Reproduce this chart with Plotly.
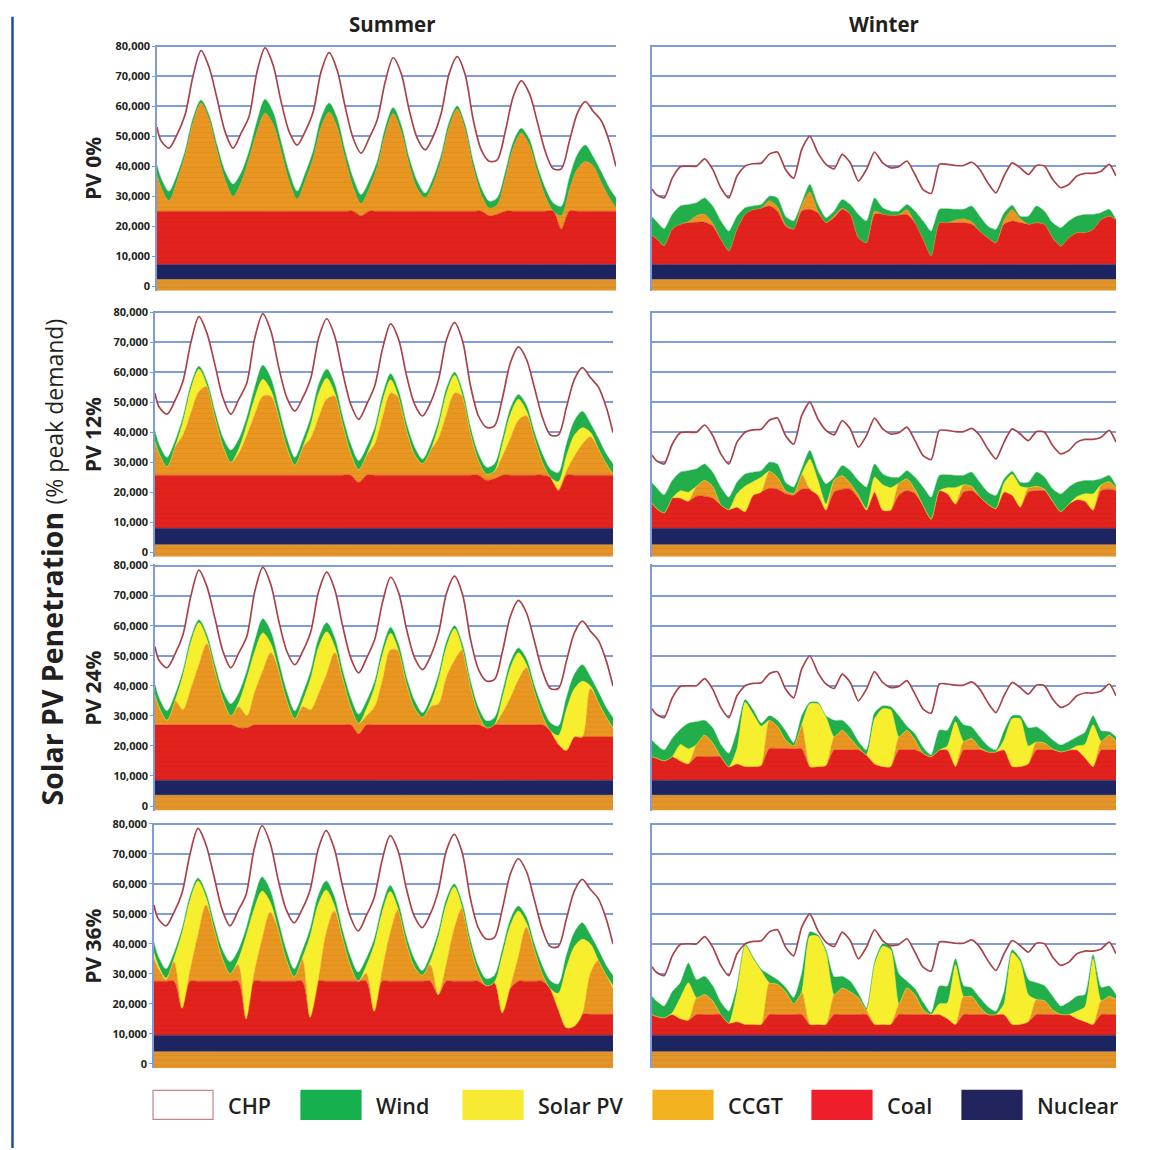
import numpy as np
import plotly.graph_objects as go

# ---------------- data (values in thousands of MW) ----------------
HOURS = [0, 1.5, 4.5, 7.5, 10.5, 13.5, 16.5, 19.5, 22.5, 25.5, 28.5, 31.5, 34.5, 37.5, 40.5,
         43.5, 46.5, 49.5, 52.5, 55.5, 58.5, 61.5, 64.5, 67.5, 70.5, 73.5, 76.5, 79.5, 82.5,
         85.5, 88.5, 91.5, 94.5, 97.5, 100.5, 103.5, 106.5, 109.5, 112.5, 115.5, 118.5,
         121.5, 124.5, 127.5, 130.5, 133.5, 136.5, 139.5, 142.5, 145.5, 148.5, 151.5,
         154.5, 157.5, 160.5, 163.5, 166.5, 169.5, 172]

ROW_LABELS = ["PV 0%", "PV 12%", "PV 24%", "PV 36%"]
SEASONS = ["Summer", "Winter"]
LEGEND_NAMES = ["CHP", "Wind", "Solar PV", "CCGT", "Coal", "Nuclear"]
Y_TICKS = [0, 10000, 20000, 30000, 40000, 50000, 60000, 70000, 80000]

BASE_TOP = [2.2, 2.5, 3.6, 4.0]     # must-run CCGT strip top, per row
NUC_TOP = [7.2, 8.0, 8.6, 9.5]      # nuclear top, per row

# ---- Summer ----
S_DEMAND = [53, 48.5, 46, 50.5, 57, 70, 78.5, 73, 62.5, 51.5,
            46, 51, 56.5, 71.5, 79.4, 73.7, 61.5, 51.5, 47, 51.5,
            58, 71.5, 77.8, 72, 59.8, 49.3, 44.3, 49.3, 55.4, 68,
            76.1, 70.9, 58.7, 49.3, 45.4, 49.9, 57.6, 70.9, 76.5, 70.4,
            55.4, 45.4, 41.6, 42.1, 51.5, 63.2, 68.4, 64.3, 54.8, 44.9,
            39.1, 39.1, 48.2, 57.6, 61.5, 58.2, 55.1, 48.2, 39.9]
S_WIND_TOP = [40.4, 36, 31.6, 37, 45, 56, 62, 57, 47, 38.2,
              34, 37.7, 45, 55, 62.3, 58, 48, 38, 31.6, 37.5,
              45, 56, 61, 56, 45, 36, 30.5, 35, 41.5, 52.6,
              59.5, 53.7, 42.7, 35, 31, 36, 43.8, 54.8, 60, 53.7,
              41.5, 32.7, 28.3, 29.4, 38, 48, 52.6, 49, 40, 32.7,
              27.7, 26.6, 36, 43.8, 47, 43, 38, 32.7, 29.4]
S_SUPPLY_TOP = [37, 33, 28.5, 35, 43.5, 54.5, 61, 55.5, 45, 35.5,
                30, 34.5, 42.5, 51.5, 57.6, 54, 45, 35, 29, 35,
                42.5, 53, 58, 53, 42.5, 33, 27.5, 32.5, 39.5, 50.5,
                57.5, 51.5, 40.5, 32.5, 29.5, 34, 42, 53, 59, 52,
                39.5, 30.5, 26, 27.1, 36, 46, 51, 47, 38, 30,
                25, 23.5, 32, 39, 41.5, 40, 34.5, 29.5, 26]
S0_COAL = [25, 25, 25, 25, 25, 25, 25, 25, 25, 25,
           25, 25, 25, 25, 25, 25, 25, 25, 25, 25,
           25, 25, 25, 25, 25, 25, 23.5, 25, 25, 25,
           25, 25, 25, 25, 25, 25, 25, 25, 25, 25,
           25, 25, 23.5, 24, 25, 25, 25, 25, 25, 25,
           25, 19, 25, 25, 25, 25, 25, 25, 25]
S12_COAL = [25.7, 25.7, 25.7, 25.7, 25.7, 25.7, 25.7, 25.7, 25.7, 25.7,
            25.7, 25.7, 25.7, 25.7, 25.7, 25.7, 25.7, 25.7, 25.7, 25.7,
            25.7, 25.7, 25.7, 25.7, 25.7, 25.7, 23.3, 25.7, 25.7, 25.7,
            25.7, 25.7, 25.7, 25.7, 25.7, 25.7, 25.7, 25.7, 25.7, 25.7,
            25.7, 25.7, 24, 24.5, 25.7, 25.7, 25.7, 25.7, 25.7, 25.7,
            25, 20.5, 25.7, 25.7, 25.7, 25.7, 25.7, 25.7, 25.7]
S12_CCGT = [37, 33, 28.5, 35, 39, 46.5, 53.5, 55.2, 45, 35.5,
            30, 33, 39, 46, 52, 52, 45, 35, 29, 35,
            38, 45, 51, 52, 42.5, 33, 27.5, 32.5, 36, 45,
            53, 51.5, 40.5, 32.5, 29.5, 34, 38, 46, 53, 52,
            39.5, 30.5, 26, 27, 32, 38, 44, 45.5, 38, 30,
            25, 21, 27, 32, 36, 38.5, 34.5, 29.5, 26]
S24_COAL = [27, 27, 27, 27, 27, 27, 27, 27, 27, 27,
            27, 26, 26, 27, 27, 27, 27, 27, 27, 27,
            27, 27, 27, 27, 27, 27, 24, 27, 27, 27,
            27, 27, 27, 27, 27, 27, 27, 27, 27, 27,
            27, 27, 26, 27, 27, 27, 27, 27, 27, 27,
            25, 20.5, 18.5, 23, 23, 23, 23, 23, 23]
S24_CCGT = [37, 33, 28.5, 35, 32, 39, 47, 54, 45, 35.5,
            30, 33, 30, 38, 45, 51, 45, 35, 29, 33,
            32, 37.5, 44, 51, 42.5, 33, 27.5, 30, 33, 42,
            52, 51.5, 40.5, 32.5, 29.5, 33, 34, 43, 48.5, 52,
            39.5, 30.5, 26, 27.1, 31, 36, 42, 46, 38, 30,
            25, 20.5, 18.5, 23, 23, 39, 34.5, 29.5, 26]
S36_COAL = [27.5, 27.5, 27.5, 27.5, 18.5, 27.5, 27.5, 27.5, 27.5, 27.5,
            27.5, 27.5, 15, 27.5, 27.5, 27.5, 27.5, 27.5, 27.5, 27.5,
            15.5, 27.5, 27.5, 27.5, 27.5, 27.5, 27.5, 27.5, 17.5, 27.5,
            27.5, 27.5, 27.5, 27.5, 27.5, 27.5, 23, 27.5, 27.5, 27.5,
            27.5, 27.5, 26, 27, 17, 25, 27.5, 27.5, 27.5, 27.5,
            25, 18, 12, 12.5, 16.5, 16.5, 16.5, 16.5, 16.5]
S36_CCGT = [35, 32, 28, 34, 18.5, 31, 43, 53, 45, 35.5,
            30, 33, 15, 30, 41.5, 50.5, 45, 35, 29, 35,
            15.5, 27.5, 43.5, 51, 42.5, 33, 27.5, 30, 17.5, 31,
            43.5, 51.5, 40.5, 32.5, 29.5, 33, 23, 33, 45, 52,
            39.5, 30.5, 26, 27.1, 17, 25.5, 35.5, 45.5, 38, 30,
            25, 18, 12, 12.5, 16.5, 30, 34.5, 29.5, 25]

# ---- Winter ----
W_DEMAND = [32.4, 30.6, 29.4, 36, 39.8, 40, 40, 42.4, 38.9, 32.8,
            29.4, 36.7, 40, 40.8, 41, 44, 44.7, 38.9, 36, 45.6,
            50, 44.4, 40.6, 39.1, 43.9, 41.1, 35, 38.9, 44.7, 41.1,
            39.4, 39.8, 41.7, 37.2, 32.2, 30.9, 40.6, 40.6, 40.2, 40.2,
            41.3, 38.9, 34.4, 31.1, 36.7, 41.1, 39.4, 37.2, 40.2, 40,
            35.6, 32.8, 33.9, 36.7, 37.6, 37.6, 38.3, 40.6, 36.7]
W0_WIND = [23.1, 21.7, 19.1, 23.9, 26.7, 27.2, 27.8, 29.4, 26.7, 21.7,
           18.3, 23.3, 26.1, 26.7, 27.2, 30, 29.4, 23.3, 21.7, 27.8,
           34, 27.2, 22.8, 25, 28.9, 27.2, 23.9, 21.7, 29.4, 26.1,
           25, 25, 27.2, 25, 21.7, 18.3, 25.6, 25.8, 25.6, 25.6,
           26.7, 23.3, 20, 18.9, 24.4, 27, 23.3, 23.3, 26.7, 25,
           21.1, 19.4, 21.7, 23.3, 23.9, 23.9, 24.5, 25.6, 22.2]
W0_CCGT = [16.9, 16, 13.5, 19, 20.6, 21.5, 23.5, 24, 21, 15.6,
           11.7, 18.9, 24, 25.5, 26, 28.5, 26.5, 20.5, 19, 27,
           31.5, 25, 21.1, 23.5, 26, 24, 16.1, 14.4, 25, 24,
           23.6, 23.8, 25.5, 21.1, 15.6, 10, 21.1, 21.1, 22, 22.5,
           21.5, 18.3, 16.1, 14.4, 22, 25.5, 22.5, 20.6, 21.1, 20.6,
           16.1, 13.3, 16.1, 17.8, 17.8, 18.9, 22.2, 23.3, 22.2]
W0_COAL = [16.9, 16, 13.5, 19, 20.6, 21.1, 21.3, 21.3, 20, 15.6,
           11.7, 18.9, 24, 25.5, 26, 26.7, 25, 20, 19, 25,
           25.6, 24.4, 21.1, 22.8, 25.6, 23.9, 16.1, 14.4, 23.9, 24,
           23.6, 23.6, 23.9, 21.1, 15.6, 10, 21.1, 21.1, 21.1, 21.1,
           20.6, 18.3, 16.1, 14.4, 20.6, 21.7, 21.1, 20.6, 21.1, 20.6,
           16.1, 13.3, 16.1, 17.8, 17.8, 18.9, 22.2, 23.3, 22.2]
W12_COAL = [16.4, 14.7, 13.1, 18, 18, 17, 18.7, 18.7, 18, 15.8,
            14.2, 15, 13.5, 19, 20, 21.3, 21, 19.5, 19, 21,
            21, 19, 14, 20, 21, 21, 18, 14, 20, 14,
            14, 19, 20.5, 19.5, 15.5, 11, 20.5, 19.5, 16, 20,
            20.5, 18.5, 16, 14.5, 20, 19, 15, 20, 20.5, 20.5,
            17, 13.5, 16, 17.5, 17, 14, 20.5, 21, 20.5]
W12_CCGT = [16.4, 14.7, 13.1, 18, 18, 17, 22, 24, 22, 15.8,
            14.2, 15, 13.5, 19, 20, 27, 25, 20.5, 19.5, 26,
            21, 19, 14, 24, 25.5, 23, 19, 14, 20, 14,
            14, 23, 24.5, 21, 15.5, 11, 20.5, 19.5, 16, 22.5,
            22, 18.5, 16, 14.5, 20, 19, 15, 21.5, 22, 21,
            17, 13.5, 16, 17.5, 17, 14, 22.5, 23.5, 21.5]
W12_PV = [16.4, 14.7, 13.1, 18, 20.5, 20, 22, 24, 22, 15.8,
          14.2, 19.5, 22, 23.5, 25, 27, 25, 20.5, 19.5, 26,
          31, 24, 16, 24, 25.5, 23, 19, 14.5, 25, 22.5,
          21.5, 23, 24.5, 21, 15.5, 11, 20.5, 21.5, 21.5, 22.5,
          22, 18.5, 16, 14.5, 23, 26, 22, 21.5, 22, 21,
          17, 13.5, 16, 18.5, 19.5, 19.5, 22.5, 23.5, 21.5]
W24_COAL = [16.4, 16, 15, 16.4, 15, 14, 16.4, 16.4, 16.4, 16.4,
            13, 14, 13.1, 13.1, 13.5, 19.1, 19.1, 19.1, 19, 19,
            13.1, 13.1, 13.5, 18.6, 18.6, 18.6, 18.6, 17, 14, 13.1,
            13.1, 18.6, 18.6, 18.6, 17.5, 16.4, 18.6, 18.6, 13.1, 18.6,
            18.6, 18.6, 18, 18, 18.6, 13.1, 13.1, 14, 18.6, 18.6,
            18.6, 18, 18.6, 18.6, 16, 13.1, 18.6, 18.6, 18.6]
W24_CCGT = [16.4, 16, 15, 16.4, 15, 14, 20.5, 23.6, 21, 16.4,
            13, 14, 13.1, 13.1, 13.5, 28.5, 26.5, 22, 20, 27,
            13.1, 13.1, 13.5, 23, 25.2, 22.5, 19.5, 17, 14, 13.1,
            13.1, 23, 25.2, 22, 17.5, 16.4, 18.6, 18.6, 13.1, 21.5,
            22.5, 19.5, 18, 18, 18.6, 13.1, 13.1, 14, 21.3, 21,
            19, 18, 18.6, 18.6, 16, 13.1, 21.5, 23.6, 21.5]
W24_PV = [16.4, 16, 15, 16.4, 20.5, 19, 20.5, 23.6, 21, 16.4,
          13, 19, 34.5, 30.5, 26.5, 28.5, 26.5, 22, 20, 27,
          34, 34, 29.6, 23, 25.2, 22.5, 19.5, 17, 29, 32.4,
          32, 23, 25.2, 22, 17.5, 16.4, 18.6, 20, 28, 21.5,
          22.5, 19.5, 18, 18, 22, 29, 29, 20, 21.3, 21,
          19, 18, 18.6, 20, 20.5, 27, 21.5, 23.6, 21.5]
W24_WIND = [21.9, 20.5, 18.6, 22.5, 25.5, 27.5, 28, 28.5, 26, 20.5,
            17.5, 25, 35.4, 32, 27.5, 30, 28.5, 25, 21, 30,
            34.5, 34.5, 30, 28.5, 28.5, 26, 21.5, 18.6, 31, 33.3,
            33, 30, 26.5, 24, 19.5, 17, 25.2, 25.2, 30, 27,
            26.3, 23, 20, 18.6, 25, 30, 30, 26, 26.3, 24.5,
            22, 20.3, 21.5, 23, 24.5, 30, 25, 24.7, 23]
W36_COAL = [16.4, 15.8, 15.3, 16.4, 15, 14.5, 16.4, 16.4, 16.4, 16.4,
            13.5, 14, 13.1, 13.1, 13.1, 16.4, 16.4, 16.4, 16.4, 16.4,
            13.1, 13.1, 13.1, 16.4, 16.4, 16.4, 16.4, 16.4, 13.1, 13.1,
            13.1, 16.4, 16.4, 16.4, 16.4, 16.4, 16.4, 15, 13.1, 16.4,
            16.4, 16.4, 16.4, 16.4, 16.4, 13.1, 13.1, 14, 16.4, 16.4,
            16.4, 16.4, 16.4, 15, 14, 13.1, 16.4, 16.4, 16.4]
W36_CCGT = [16.4, 15.8, 15.3, 16.4, 15, 14.5, 22, 23.1, 21, 16.4,
            13.5, 14, 13.1, 13.1, 13.1, 27, 26.5, 24, 20, 24,
            13.1, 13.1, 13.1, 23, 25.3, 24, 22, 18, 13.1, 13.1,
            13.1, 20, 25.3, 23, 18, 16.4, 16.4, 15, 13.1, 22.5,
            22.5, 19, 16.4, 16.4, 16.4, 13.1, 13.1, 14, 21.4, 21,
            18, 16.4, 16.4, 15, 14, 13.1, 21, 22.5, 21.5]
W36_PV = [16.4, 15.8, 15.3, 17, 22, 27, 22, 23.1, 21, 16.4,
          13.5, 24, 39.5, 35, 30.9, 27, 26.5, 24, 20, 24,
          42.5, 42.5, 37, 23, 25.3, 24, 22, 18, 33, 39.2,
          38, 20, 25.3, 23, 18, 16.4, 20, 20.3, 33, 22.5,
          22.5, 19, 16.4, 16.4, 20, 37, 34, 23, 21.4, 21,
          18, 16.4, 16.4, 17.5, 19, 35, 21, 22.5, 21.5]
W36_WIND = [22.5, 21, 19.2, 24, 27, 33.6, 28, 29.2, 26, 20.5,
            17.5, 26, 40, 35.5, 31.5, 29.7, 28, 25.5, 22, 30,
            44, 43, 38, 29, 29.2, 27.5, 23.5, 18.6, 34, 40,
            39, 30, 27.5, 25, 20.5, 17, 25.9, 25.9, 35, 26,
            25.3, 22, 19, 17.5, 24, 38, 35, 28, 27, 26,
            22.5, 19.2, 20.5, 22.5, 23.1, 36.4, 25.5, 25.9, 23]

# ---------------- styling / layout constants ----------------
W, H = 1158, 1150
Y_MIN, Y_MAX = -1500, 80400
ROW_Y80 = [44.3, 311.0, 565.0, 824.0]
ROW_Y0 = [285.0, 551.7, 806.0, 1064.3]
LEFT_X = [(157, 616), (155, 613), (155, 613), (154, 613)]
RIGHT_X = (652, 1116)

ORANGE = "#EA9722"
ORANGE_BASE = "#E3952A"
RED = "#E3221E"
NAVY = "#1D2462"
GREEN = "#22AE4A"
YELLOW = "#F7EE2E"
DEMAND_COL = "#A8434A"
GRID = "#7F9BD8"
TXT = "#231F20"
FONT = "Open Sans"

LEG_COLORS = ["#FFFFFF", "#17B04E", "#F6EB32", "#F2B11F", "#EE1E2B", "#22245E"]


def vy(px):
    """reference pixel row -> paper fraction (small correction for page placement)"""
    return 1 - (1.0056 * px - 5.2) / H


panels = [
    # (row, col, demand, wind, pv, ccgt, coal)
    (0, 0, S_DEMAND, S_WIND_TOP, None, S_SUPPLY_TOP, S0_COAL),
    (0, 1, W_DEMAND, W0_WIND, None, W0_CCGT, W0_COAL),
    (1, 0, S_DEMAND, S_WIND_TOP, S_SUPPLY_TOP, S12_CCGT, S12_COAL),
    (1, 1, W_DEMAND, W0_WIND, W12_PV, W12_CCGT, W12_COAL),
    (2, 0, S_DEMAND, S_WIND_TOP, S_SUPPLY_TOP, S24_CCGT, S24_COAL),
    (2, 1, W_DEMAND, W24_WIND, W24_PV, W24_CCGT, W24_COAL),
    (3, 0, S_DEMAND, S_WIND_TOP, S_SUPPLY_TOP, S36_CCGT, S36_COAL),
    (3, 1, W_DEMAND, W36_WIND, W36_PV, W36_CCGT, W36_COAL),
]

for p in panels:
    for s in p[2:]:
        if s is not None:
            assert len(s) == len(HOURS), len(s)

K = 1000.0
fig = go.Figure()
layout_axes = {}


def arr(v):
    return np.asarray(v, dtype=float) * K


def stripes(color, dark):
    return dict(shape="-", bgcolor=color, fgcolor=dark, size=5, solidity=0.18)


for i, (row, col, demand, wind, pv, ccgt, coal) in enumerate(panels, start=1):
    xname = "x" if i == 1 else f"x{i}"
    yname = "y" if i == 1 else f"y{i}"
    n = len(HOURS)
    common = dict(x=HOURS, xaxis=xname, yaxis=yname, mode="lines",
                  hoverinfo="skip", showlegend=False)
    sm = dict(shape="spline", smoothing=0.85 if col == 0 else 0.6)

    fig.add_trace(go.Scatter(y=np.full(n, Y_MIN), line=dict(width=0), **common))
    layers = [
        (np.full(n, BASE_TOP[row] * K), ORANGE_BASE, stripes(ORANGE_BASE, "rgba(170,90,20,0.45)")),
        (np.full(n, NUC_TOP[row] * K), NAVY, None),
        (arr(coal), RED, stripes(RED, "rgba(150,20,20,0.35)")),
        (arr(ccgt), ORANGE, stripes(ORANGE, "rgba(170,90,20,0.35)")),
    ]
    if pv is not None:
        layers.append((arr(pv), YELLOW, None))
    layers.append((arr(wind), GREEN, None))
    for y, c, patt in layers:
        kw = dict(y=y, fill="tonexty", fillcolor=c, line=dict(color=c, width=0.5, **sm))
        if patt is not None:
            kw["fillpattern"] = patt
        fig.add_trace(go.Scatter(**kw, **common))
    fig.add_trace(go.Scatter(y=arr(demand), fill="tonexty", fillcolor="white",
                             line=dict(color=DEMAND_COL, width=1.7, **sm), **common))

    x0, x1 = LEFT_X[row] if col == 0 else RIGHT_X
    pxk = (ROW_Y0[row] - ROW_Y80[row]) / 80.0
    top = ROW_Y80[row] - (Y_MAX - 80000) / K * pxk
    bot = ROW_Y0[row] + (0 - Y_MIN) / K * pxk
    xkey = "xaxis" if i == 1 else f"xaxis{i}"
    ykey = "yaxis" if i == 1 else f"yaxis{i}"
    layout_axes[xkey] = dict(domain=[x0 / W, x1 / W], range=[HOURS[0], HOURS[-1]],
                             showgrid=False, zeroline=False, showticklabels=False,
                             showline=False, ticks="", anchor=yname, fixedrange=True)
    layout_axes[ykey] = dict(domain=[vy(bot), vy(top)], range=[Y_MIN, Y_MAX],
                             tickvals=Y_TICKS, tickformat=",d",
                             showgrid=True, gridcolor=GRID, gridwidth=1.5,
                             zeroline=False, showline=True, linecolor=GRID, linewidth=1.5,
                             showticklabels=(col == 0), ticks="outside" if col == 0 else "",
                             ticklen=3, tickcolor=GRID,
                             tickfont=dict(family=FONT, size=11, color=TXT, weight=700),
                             anchor=xname, fixedrange=True)

annotations = []
# season titles
for name, xc in zip(SEASONS, [392, 884]):
    annotations.append(dict(text=f"<b>{name}</b>", x=xc / W, y=vy(22), xref="paper",
                            yref="paper", showarrow=False, xanchor="center", yanchor="middle",
                            font=dict(family=FONT, size=20.5, color=TXT)))
# row labels
for r, lab in enumerate(ROW_LABELS):
    yc = (ROW_Y80[r] + ROW_Y0[r]) / 2 + 3
    annotations.append(dict(text=f"<b>{lab}</b>", x=93 / W, y=vy(yc), xref="paper",
                            yref="paper", showarrow=False, textangle=-90,
                            xanchor="center", yanchor="middle",
                            font=dict(family=FONT, size=21, color=TXT)))
# main vertical title
annotations.append(dict(
    text="<b>Solar PV Penetration</b> <span style='font-size:23px'>(% peak demand)</span>",
    x=52 / W, y=vy(562), xref="paper", yref="paper", showarrow=False, textangle=-90,
    xanchor="center", yanchor="middle", font=dict(family=FONT, size=28.5, color=TXT)))

shapes = [dict(type="line", xref="paper", yref="paper", x0=12.5 / W, x1=12.5 / W,
               y0=vy(15), y1=0, line=dict(color="#1F4E9A", width=2.5))]

# legend
LEG_BOX_X = [153, 301, 463, 653, 812, 962]
for name, c, bx in zip(LEGEND_NAMES, LEG_COLORS, LEG_BOX_X):
    shapes.append(dict(type="rect", xref="paper", yref="paper",
                       x0=bx / W, x1=(bx + 60) / W, y0=vy(1120), y1=vy(1091),
                       fillcolor=c,
                       line=dict(color="#C98088" if name == "CHP" else c, width=1.2)))
    annotations.append(dict(text=name, x=(bx + 73) / W, y=vy(1106), xref="paper",
                            yref="paper", showarrow=False, xanchor="left", yanchor="middle",
                            font=dict(family=FONT, size=21.5, color=TXT, weight=600)))

fig.update_layout(width=W, height=H, autosize=False, margin=dict(l=0, r=0, t=0, b=0),
                  paper_bgcolor="white", plot_bgcolor="white", showlegend=False,
                  annotations=annotations, shapes=shapes, font=dict(family=FONT, color=TXT),
                  **layout_axes)

fig.write_html("out.html", config={"displayModeBar": False},
               post_script="document.body.style.margin='0';document.body.style.padding='0';"
                           "document.documentElement.style.overflow='hidden';")
